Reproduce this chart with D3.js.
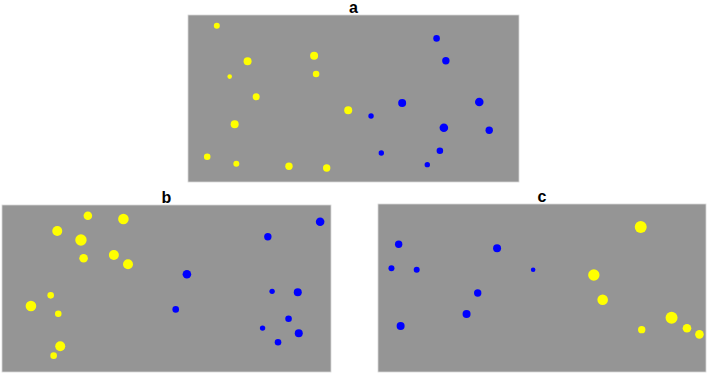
<!DOCTYPE html>
<html>
<head>
<meta charset="utf-8">
<script src="https://cdn.jsdelivr.net/npm/d3@7"></script>
<style>
  body { margin: 0; background: #fff; }
  svg { display: block; }
</style>
</head>
<body>
<svg id="chart" width="708" height="374"></svg>
<script>
'use strict';

// panel titles
const panelNames = ["a", "b", "c"];

// points per panel: [x, y, size] in panel units (0..100, y up)
const aYellow = [
  [8.7, 93.6, 3], [18.0, 72.3, 4], [38.1, 75.6, 4], [12.6, 63.1, 2.3],
  [38.7, 64.7, 3.3], [20.6, 51.1, 3.5], [48.4, 42.9, 4], [14.1, 34.6, 4],
  [5.8, 15.1, 3.3], [14.6, 11.0, 3], [30.5, 9.4, 3.7], [41.9, 8.4, 3.7]
];
const aBlue = [
  [75.1, 86.0, 3.3], [77.9, 72.6, 3.7], [64.7, 47.3, 4], [88.0, 47.9, 4.3],
  [55.3, 39.5, 2.7], [77.3, 32.5, 4.3], [91.0, 31.0, 3.7], [58.4, 17.4, 2.7],
  [76.1, 18.7, 3.3], [72.3, 10.4, 2.7]
];
const bYellow = [
  [26.1, 93.6, 4.3], [36.9, 91.6, 5.3], [16.8, 84.4, 5], [24.0, 79.0, 5.7],
  [24.8, 68.1, 4.3], [34.0, 70.1, 5], [38.3, 64.5, 5], [14.8, 45.9, 3.3],
  [8.8, 39.5, 5.3], [17.1, 34.9, 3.3], [17.7, 15.4, 5], [15.7, 9.8, 3.3]
];
const bBlue = [
  [96.7, 90.0, 4.3], [80.8, 81.0, 3.7], [56.2, 58.5, 4.3], [82.1, 48.3, 2.7],
  [89.9, 47.7, 4], [52.8, 37.5, 3.3], [87.1, 31.9, 3.3], [79.2, 26.3, 2.7],
  [90.2, 23.2, 4], [83.9, 17.8, 3.3]
];
const cBlue = [
  [6.3, 76.0, 3.7], [36.3, 73.6, 4], [4.1, 61.7, 3], [11.8, 60.9, 3],
  [47.3, 60.9, 2.3], [30.4, 47.0, 3.7], [27.0, 34.5, 4], [6.9, 27.4, 4]
];
const cYellow = [
  [80.1, 86.3, 6], [65.8, 57.7, 5.7], [68.5, 43.0, 5.3], [89.5, 32.3, 6],
  [80.4, 25.2, 3.7], [94.2, 26.0, 4.3], [98.0, 22.4, 4.3]
];

const BG = "#959595";
const YELLOW = "#ffff00";
const BLUE = "#0000ff";

let svg = d3.select("#chart");

// panel boxes
let panels = [
  {name: panelNames[0], left: 188, top: 15, width: 331, height: 167, yellow: aYellow, blue: aBlue},
  {name: panelNames[1], left: 2, top: 205, width: 329, height: 167, yellow: bYellow, blue: bBlue},
  {name: panelNames[2], left: 378, top: 204, width: 328, height: 168, yellow: cYellow, blue: cBlue}
];

let r = d3.scaleLinear().domain([0, 6]).range([0, 6]);

panels.forEach(function (p) {
  let g = svg.append("g").attr("transform", "translate(" + p.left + "," + p.top + ")");

  let x = d3.scaleLinear().domain([0, 100]).range([0, p.width]);
  let y = d3.scaleLinear().domain([0, 100]).range([p.height, 0]);

  g.append("rect")
    .attr("width", p.width)
    .attr("height", p.height)
    .attr("fill", BG)
    .attr("stroke", "#d8d8d8")
    .attr("stroke-width", 0.8);

  // title sits just above the box
  svg.append("text")
    .attr("x", p.left + p.width / 2)
    .attr("y", p.top - 2)
    .attr("text-anchor", "middle")
    .attr("font-family", "Liberation Sans, Arial, sans-serif")
    .attr("font-weight", "bold")
    .attr("font-size", 16)
    .text(p.name);

  let drawDots = function (data, color) {
    g.append("g")
      .selectAll("circle")
      .data(data)
      .enter().append("circle")
      .attr("cx", d => x(d[0]))
      .attr("cy", d => y(d[1]))
      .attr("r", d => r(d[2]))
      .attr("fill", color);
  };

  drawDots(p.yellow, YELLOW);
  drawDots(p.blue, BLUE);
});
</script>
</body>
</html>
